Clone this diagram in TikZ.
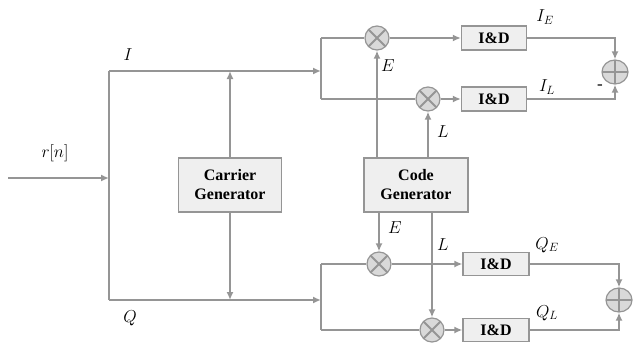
\documentclass[tikz,border=0pt]{standalone}
\usepackage{fontspec}
\setmainfont{Liberation Serif}
\usetikzlibrary{positioning, shapes.geometric, arrows.meta}
\definecolor{linegray}{HTML}{959595}
\definecolor{boxgray}{HTML}{EFEFEF}
\definecolor{mixgray}{HTML}{D9D9D9}
\tikzset{
    sig/.style={draw=linegray, line width=2.8pt, -{Latex[length=8pt,width=7pt]}},
    wire/.style={draw=linegray, line width=2.8pt},
    block/.style={draw=linegray, fill=boxgray, line width=1.2pt, align=center,
        font=\fontsize{16}{19}\selectfont\bfseries, inner sep=0pt},
    mixer/.style={circle, draw=linegray, fill=mixgray, line width=1.2pt,
        minimum size=24pt, inner sep=0pt,
        path picture={\draw[linegray, line width=1.8pt, shift={(path picture bounding box.center)}]
            (45:12pt) -- (225:12pt) (135:12pt) -- (-45:12pt);}},
    adder/.style={ellipse, draw=linegray, fill=mixgray, line width=1.2pt,
        minimum width=26pt, minimum height=24pt, inner sep=0pt,
        path picture={\draw[linegray, line width=1.8pt, shift={(path picture bounding box.center)}]
            (-13pt,0) -- (13pt,0) (0,-12pt) -- (0,12pt);}},
    lbl/.style={font=\fontsize{17}{19}\selectfont}
}
\begin{document}
\begin{tikzpicture}[x=1pt, y=-1pt]
    \useasboundingbox (0,0) rectangle (635,343);
    % blocks
    \node[block, minimum width=103pt, minimum height=54pt] (carrier) at (230,185) {Carrier\\Generator};
    \node[block, minimum width=104pt, minimum height=54pt] (code) at (416,185) {Code\\Generator};
    \node[mixer] (mIE) at (377,38) {};
    \node[mixer] (mIL) at (428,99) {};
    \node[mixer] (mQE) at (379,264) {};
    \node[mixer] (mQL) at (432,330) {};
    \node[block, minimum width=65pt, minimum height=24pt] (dIE) at (494,38) {I\&D};
    \node[block, minimum width=65pt, minimum height=24pt] (dIL) at (494,99) {I\&D};
    \node[block, minimum width=66pt, minimum height=23pt] (dQE) at (496,264) {I\&D};
    \node[block, minimum width=66pt, minimum height=23pt] (dQL) at (496,330) {I\&D};
    \node[adder] (sumI) at (615,72) {};
    \node[adder] (sumQ) at (619,300) {};
    % bus points
    \coordinate (in) at (8,178);
    \coordinate (split) at (109,178);
    \coordinate (iL) at (109,71);
    \coordinate (qL) at (109,300);
    \coordinate (iR) at (321,71);
    \coordinate (qR) at (321,300);
    % input and I/Q split
    \draw[sig] (in) -- (split);
    \draw[wire] (iL) -- (qL);
    \draw[sig] (iL) -- (iR);
    \draw[sig] (qL) -- (qR);
    \draw[sig] (carrier.north) -- (carrier.north |- iL);
    \draw[sig] (carrier.south) -- (carrier.south |- qL);
    % I branch
    \draw[wire] (mIE.west -| iR) -- (mIL.west -| iR);
    \draw[wire] (mIE.west -| iR) -- (mIE.west);
    \draw[wire] (mIL.west -| iR) -- (mIL.west);
    \draw[sig] (mIE.east) -- (dIE.west);
    \draw[sig] (mIL.east) -- (dIL.west);
    \draw[sig] (code.north -| mIE) -- (mIE.south);
    \draw[sig] (code.north -| mIL) -- (mIL.south);
    \draw[sig] (dIE.east) -| (sumI.north);
    \draw[sig] (dIL.east) -| (sumI.south);
    % Q branch
    \draw[wire] (mQE.west -| qR) -- (mQL.west -| qR);
    \draw[wire] (mQE.west -| qR) -- (mQE.west);
    \draw[wire] (mQL.west -| qR) -- (mQL.west);
    \draw[sig] (mQE.east) -- (dQE.west);
    \draw[sig] (mQL.east) -- (dQL.west);
    \draw[sig] (code.south -| mQE) -- (mQE.north);
    \draw[sig] (code.south -| mQL) -- (mQL.north);
    \draw[sig] (dQE.east) -| (sumQ.north);
    \draw[sig] (dQL.east) -| (sumQ.south);
    % labels
    \node[lbl] (rn) at (55,153) {$r[n]$};
    \node[lbl] (lI) at (128,55) {$I$};
    \node[lbl] (lQ) at (130,318) {$Q$};
    \node[lbl] (lE1) at (388,66) {$E$};
    \node[lbl] (lL1) at (443,132) {$L$};
    \node[lbl] (lE2) at (395,228) {$E$};
    \node[lbl] (lL2) at (443,245) {$L$};
    \node[lbl] (lIE) at (545,17) {$I_E$};
    \node[lbl] (lIL) at (547,87) {$I_L$};
    \node[lbl] (lQE) at (547,245) {$Q_E$};
    \node[lbl] (lQL) at (547,313) {$Q_L$};
    \node[lbl] (minus) at (600,87) {-};
\end{tikzpicture}
\end{document}
